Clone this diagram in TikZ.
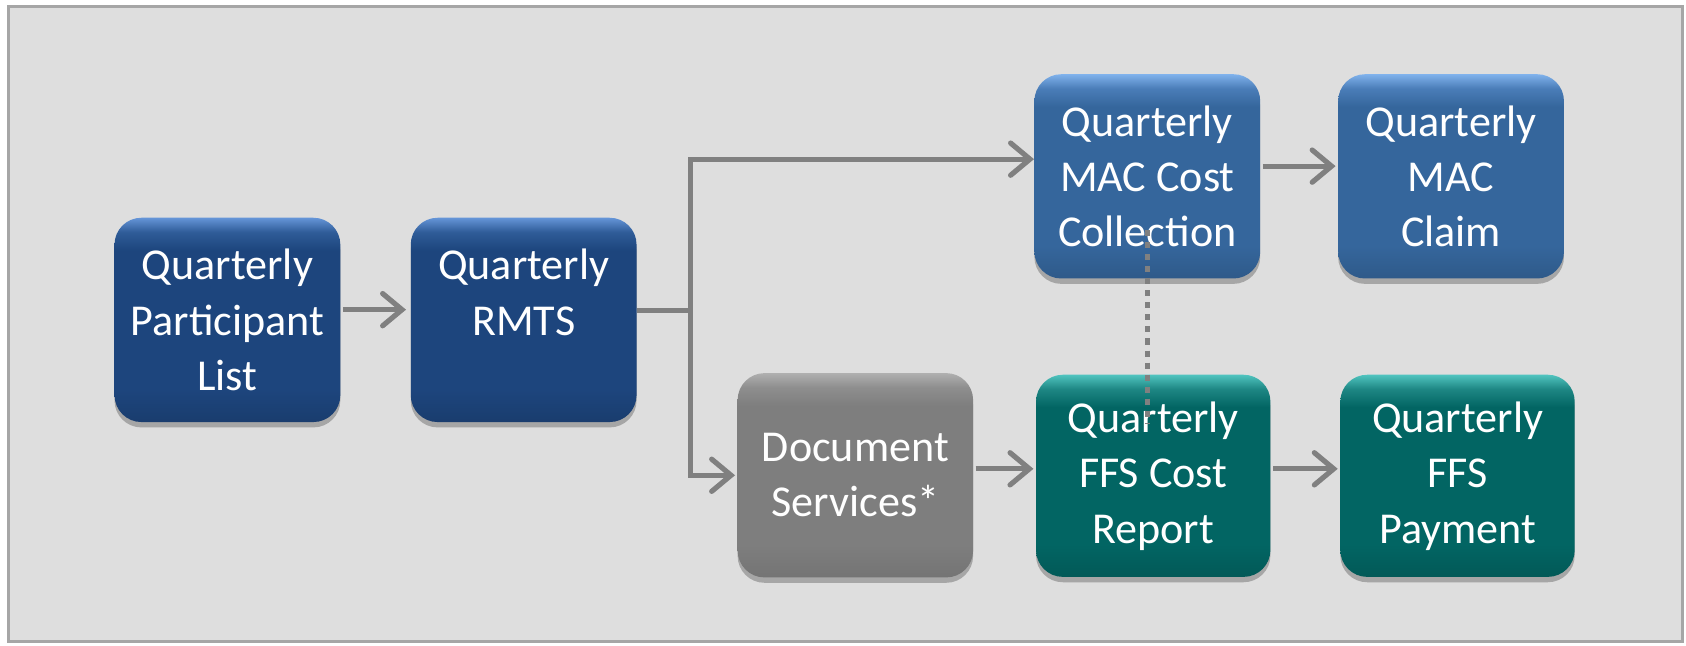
\documentclass[tikz,border=0pt]{standalone}
\usepackage{fontspec}
\setmainfont{Carlito}
\usetikzlibrary{arrows.meta,shadows}
\definecolor{bgc}{HTML}{DEDEDE}
\definecolor{framec}{HTML}{A6A6A6}
\definecolor{linec}{HTML}{808080}
\definecolor{dbBase}{HTML}{1D457D}
\definecolor{dbMid}{HTML}{2F5C98}
\definecolor{dbLight}{HTML}{6595D8}
\definecolor{mbBase}{HTML}{35669C}
\definecolor{mbMid}{HTML}{4A7DB8}
\definecolor{mbLight}{HTML}{80B2EC}
\definecolor{tlBase}{HTML}{026563}
\definecolor{tlMid}{HTML}{1E8784}
\definecolor{tlLight}{HTML}{50C4BF}
\definecolor{gyBase}{HTML}{7E7E7E}
\definecolor{gyMid}{HTML}{8E8E8E}
\definecolor{gyLight}{HTML}{B0B0B0}
\pgfdeclareverticalshading{shDB}{100bp}{color(0bp)=(dbBase!88!black); color(25bp)=(dbBase!88!black); color(33bp)=(dbBase); color(67bp)=(dbBase); color(71.5bp)=(dbMid); color(75bp)=(dbLight); color(100bp)=(dbLight)}
\pgfdeclareverticalshading{shMB}{100bp}{color(0bp)=(mbBase!88!black); color(25bp)=(mbBase!88!black); color(33bp)=(mbBase); color(67bp)=(mbBase); color(71.5bp)=(mbMid); color(75bp)=(mbLight); color(100bp)=(mbLight)}
\pgfdeclareverticalshading{shTL}{100bp}{color(0bp)=(tlBase!88!black); color(25bp)=(tlBase!88!black); color(33bp)=(tlBase); color(67bp)=(tlBase); color(71.5bp)=(tlMid); color(75bp)=(tlLight); color(100bp)=(tlLight)}
\pgfdeclareverticalshading{shGY}{100bp}{color(0bp)=(gyBase!92!black); color(25bp)=(gyBase!92!black); color(33bp)=(gyBase); color(67bp)=(gyBase); color(71.5bp)=(gyMid); color(75bp)=(gyLight); color(100bp)=(gyLight)}
\tikzset{
  procbox/.style={rounded corners=12.5pt, minimum width=105pt, minimum height=95pt,
    inner sep=0pt, align=center, text=white,
    font=\fontsize{20.5}{25.8}\selectfont,
    drop shadow={shadow xshift=0pt, shadow yshift=-2.5pt, opacity=0.25, fill=black}},
  darkblue/.style={procbox, shading=shDB},
  midblue/.style={procbox, shading=shMB},
  tealbox/.style={procbox, shading=shTL},
  graybox/.style={procbox, shading=shGY},
  conn/.style={draw=linec, line width=2.4pt, line join=miter},
  arrowconn/.style={conn, -{Straight Barb[length=9pt, width=15pt, line cap=round]}},
  dotconn/.style={draw=linec, line width=2.4pt, dash pattern=on 2.8pt off 2.8pt}
}
\begin{document}
\begin{tikzpicture}[x=0.5pt, y=-0.5pt]
  \useasboundingbox (0,0) rectangle (1568,600);
  \fill[white] (0,0) rectangle (1568,600);
  \draw[fill=bgc, draw=framec, line width=1.4pt] (8,6) rectangle (1565,597);

  \node[darkblue] (p) at (211.5,297.5) {Quarterly\\Participant\\List};
  \node[darkblue] (r) at (487,297.5) {Quarterly\\RMTS\\\mbox{}};
  \node[midblue] (mac) at (1067,164) {Quarterly\\MAC Cost\\Collection};
  \node[midblue] (claim) at (1349.5,164) {Quarterly\\MAC\\Claim};
  \node[graybox, minimum width=109.5pt] (doc) at (795.5,442) {Document\\Services*};
  \node[tealbox, minimum width=109pt, minimum height=94pt] (ffs) at (1072.5,442.5) {Quarterly\\FFS Cost\\Report};
  \node[tealbox, minimum width=109pt, minimum height=94pt] (pay) at (1355.5,442.5) {Quarterly\\FFS\\Payment};

  \coordinate (j) at (642,289);
  \coordinate (jt) at (642,148);
  \coordinate (jb) at (642,442);
  \coordinate (dtop) at (1067,214);
  \coordinate (dbot) at (1067,394);

  \draw[arrowconn, shorten <=1pt, shorten >=2pt] ([yshift=4.75pt]p.east) -- ([yshift=4.75pt]r.west);
  \draw[conn] ([yshift=4.25pt]r.east) -- (j);
  \draw[arrowconn] (jb) -- (jt) -- (jt -| mac.west);
  \draw[arrowconn, shorten >=1pt] (jt) -- (jb) -- (jb -| doc.west);
  \draw[arrowconn, shorten <=1pt, shorten >=1pt] ([yshift=4.75pt]mac.east) -- ([yshift=4.75pt]claim.west);
  \draw[arrowconn, shorten <=1pt, shorten >=1pt] ([yshift=3pt]doc.east) -- ([yshift=3.25pt]ffs.west);
  \draw[arrowconn, shorten <=1pt, shorten >=1pt] ([yshift=3.25pt]ffs.east) -- ([yshift=3.25pt]pay.west);
  \draw[dotconn] (dtop) -- (dbot);
\end{tikzpicture}
\end{document}
